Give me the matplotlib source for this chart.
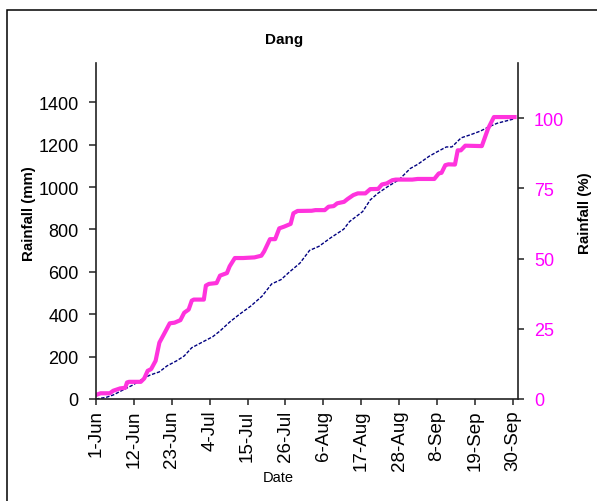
import matplotlib.pyplot as plt
from matplotlib.patches import Rectangle

plt.rcParams['font.family'] = ['Liberation Sans', 'DejaVu Sans']

# day index since 1-Jun, cumulative rainfall (mm)
actual_day = [0, 1.3, 4, 5, 7, 8.5, 9, 9.6, 13, 14, 15, 16, 17.3, 18.4, 19.7, 21.4, 22.8,
              24.5, 25.6, 26.9, 27.8, 28.4, 31.3, 31.9, 32.8, 35, 36, 38, 38.8, 40.3,
              42.7, 46, 48, 48.8, 50.5, 52, 53.2, 54.6, 56.5, 57.3, 58.5, 62.6, 63.7,
              66.4, 67.5, 69, 70, 72, 73, 74.7, 76, 78.2, 79.6, 81.9, 83, 84.4, 86, 87,
              91.8, 93.4, 98.2, 99.5, 100.3, 101.4, 102.3, 104.2, 105, 105.9, 107.2,
              112, 113.8, 115.5, 121.5]
actual_mm = [19, 27, 27, 39, 50, 53, 78, 81, 81, 97, 133, 141, 180, 266, 305, 357, 360,
             372, 407, 422, 464, 469, 469, 535, 543, 547, 582, 594, 626, 665,
             665, 668, 676, 696, 754, 754, 805, 813, 826, 876, 887, 888, 891,
             891, 907, 910, 923, 930, 943, 962, 970, 970, 990, 991, 1012, 1017, 1032, 1035,
             1035, 1038, 1038, 1064, 1067, 1103, 1107, 1106, 1173, 1173, 1195,
             1193, 1275, 1330, 1330]

normal_day = [0, 3, 5, 7.4, 10.7, 13.5, 15.7, 18.4, 20.6, 23.4, 25.6, 27.8, 30.6, 33.9,
              36, 38.8, 41.6, 44.9, 48.2, 51, 53.7, 56, 59.2, 62, 64.7, 68, 71.9, 73.6,
              77.4, 79.6, 81.8, 84.6, 88, 91.2, 93.4, 96.7, 98.9, 101.7, 103.3, 106,
              108.8, 111.6, 114.3, 116.5, 121.5]
normal_mm = [0, 8, 19, 39, 66, 94, 113, 128, 156, 180, 203, 242, 266, 294,
             321, 363, 399, 438, 485, 543, 563, 597, 641, 701, 720, 759, 801, 837,
             884, 939, 970, 1001, 1035, 1087, 1107, 1145, 1165, 1189, 1189, 1232,
             1247, 1264, 1286, 1301, 1322]

tick_days = [0, 11, 22, 33, 44, 55, 66, 77, 88, 99, 110, 121]
tick_labels = ['1-Jun', '12-Jun', '23-Jun', '4-Jul', '15-Jul', '26-Jul', '6-Aug',
               '17-Aug', '28-Aug', '8-Sep', '19-Sep', '30-Sep']
total_mm = 1324
pct_ticks = [0, 25, 50, 75, 100]

W, H = 597, 502
fig = plt.figure(figsize=(W / 100, H / 100), dpi=100)
fig.patches.append(Rectangle((6.5 / W, -0.1), 1.2, 1.1 - 10.5 / H, transform=fig.transFigure,
                             fill=False, edgecolor='black', linewidth=1.1))
ax = fig.add_axes([96 / W, 1 - 400 / H, 422 / W, 336 / H])

ax.plot(normal_day, normal_mm, color='#000080', lw=1, linestyle=(0, (2.5, 1.2)))
ax.plot(actual_day, actual_mm, color='#FF33DD', lw=3, solid_joinstyle='round')

ymax = 1585
ax.set_xlim(0, 122.5)
ax.set_ylim(0, ymax)
ax.set_yticks(range(0, 1401, 200))
ax.set_xticks(tick_days)
ax.set_xticklabels(tick_labels, rotation=90)
ax.tick_params(axis='y', labelsize=13, direction='out', length=5, width=1.2,
               color='#333333', pad=7.5)
ax.tick_params(axis='x', labelsize=13.5, direction='out', length=4.5, width=1.2,
               color='#333333', pad=3)
ax.spines['top'].set_visible(False)
ax.spines['right'].set_visible(False)
for s in ['left', 'bottom']:
    ax.spines[s].set_linewidth(1.2)
    ax.spines[s].set_color('#222222')

fig.text(29.5 / W, 1 - 214 / H, 'Rainfall (mm)', rotation=90, ha='center', va='center',
         fontsize=10.8, fontweight='bold')
fig.text(278 / W, 1 - 478 / H, 'Date', ha='center', va='center', fontsize=10.5)
fig.text(284.5 / W, 1 - 40 / H, 'Dang', ha='center', va='center',
         fontsize=11, fontweight='bold')

ax2 = ax.twinx()
ax2.set_ylim(0, ymax / total_mm * 100)
ax2.set_yticks(pct_ticks)
ax2.tick_params(labelsize=13, direction='out', length=4.5, width=1.2, color='#333333',
                labelcolor='#FF00FF', pad=7)
ax2.spines['top'].set_visible(False)
ax2.spines['left'].set_visible(False)
ax2.spines['bottom'].set_visible(False)
ax2.spines['right'].set_linewidth(1.2)
ax2.spines['right'].set_color('#222222')
fig.text(585.5 / W, 1 - 213 / H, 'Rainfall (%)', rotation=90, ha='center', va='center',
         fontsize=10.8, fontweight='bold')

fig.savefig('out.png', dpi=100)
